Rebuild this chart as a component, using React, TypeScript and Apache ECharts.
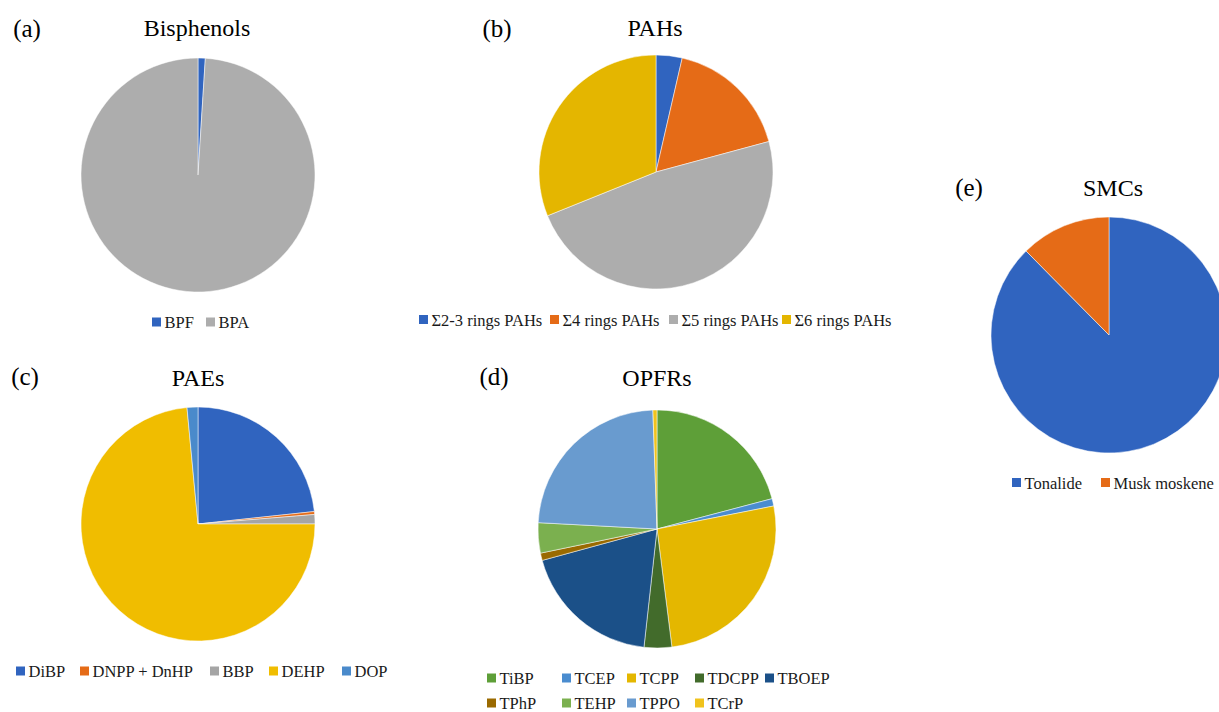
import React, { useEffect, useRef } from "react";
import * as echarts from "echarts";

// ---- data ----
const bisphenolNames = ["BPF", "BPA"];
const bisphenolValues = [1.0, 99.0];

const pahNames = ["Σ2-3 rings PAHs", "Σ4 rings PAHs", "Σ5 rings PAHs", "Σ6 rings PAHs"];
const pahValues = [3.6, 17.2, 48.1, 31.1];

const paeNames = ["DiBP", "DNPP + DnHP", "BBP", "DEHP", "DOP"];
const paeValues = [23.3, 0.4, 1.3, 73.5, 1.5];

const opfrNames = ["TiBP", "TCEP", "TCPP", "TDCPP", "TBOEP", "TPhP", "TEHP", "TPPO", "TCrP"];
const opfrValues = [20.9, 1.0, 26.1, 3.75, 19.0, 1.0, 4.1, 23.6, 0.55];

const smcNames = ["Tonalide", "Musk moskene"];
const smcValues = [87.6, 12.4];

// ---- styles / layout ----
const bisphenolColors = ["#3064BF", "#ADADAD"];
const pahColors = ["#3064BF", "#E56B17", "#ADADAD", "#E4B600"];
const paeColors = ["#3064BF", "#E56B17", "#A5A5A5", "#F0BD00", "#4A8ACB"];
const opfrColors = ["#5E9F38", "#4A8CCF", "#E4B700", "#426B2B", "#1B5088", "#9A6A00", "#7BB04F", "#699BCF", "#F0C31D"];
const smcColors = ["#3064BF", "#E56B17"];

const FONT = "Liberation Serif";

export default function App() {
  const ref = useRef<HTMLDivElement>(null);

  useEffect(() => {
    document.body.style.margin = "0";
    if (!ref.current) return;
    const chart = echarts.init(ref.current, undefined, { renderer: "svg" });

    const pie = (
      names: string[],
      values: number[],
      colors: string[],
      center: [number, number],
      r: number
    ) => ({
      type: "pie",
      center,
      radius: r,
      startAngle: 90,
      clockwise: true,
      silent: true,
      label: { show: false },
      labelLine: { show: false },
      emphasis: { disabled: true },
      itemStyle: { borderColor: "#ffffff", borderWidth: 0.5 },
      data: names.map((n, i) => ({ name: n, value: values[i], itemStyle: { color: colors[i] } })),
    });

    const txt = (text: string, x: number, y: number, size: number) => ({
      type: "text",
      x,
      y,
      silent: true,
      style: {
        text,
        fontFamily: FONT,
        fontSize: size,
        fill: "#000",
        align: "center",
        verticalAlign: "middle",
      },
    });

    // legend keys drawn as graphic squares + texts
    const legendEls: any[] = [];
    const addLegend = (names: string[], colors: string[], xs: number[], ys: number[]) => {
      names.forEach((n, i) => {
        legendEls.push({
          type: "rect",
          silent: true,
          shape: { x: xs[i], y: ys[i] - 4.5, width: 9, height: 9 },
          style: { fill: colors[i] },
        });
        legendEls.push({
          type: "text",
          x: xs[i] + 12.5,
          y: ys[i] + 0.5,
          silent: true,
          style: {
            text: n,
            fontFamily: FONT,
            fontSize: 16.5,
            fill: "#1a1a1a",
            align: "left",
            verticalAlign: "middle",
          },
        });
      });
    };
    addLegend(bisphenolNames, bisphenolColors, [152, 206], [322, 322]);
    addLegend(pahNames, pahColors, [419, 550, 669, 782], [319.5, 319.5, 319.5, 319.5]);
    addLegend(paeNames, paeColors, [16, 80, 210, 269, 342], [671, 671, 671, 671, 671]);
    addLegend(
      opfrNames,
      opfrColors,
      [487, 562, 627, 695, 765, 487, 562, 627, 695],
      [678, 678, 678, 678, 678, 703, 703, 703, 703]
    );
    addLegend(smcNames, smcColors, [1012, 1101], [482.5, 482.5]);

    chart.setOption({
      animation: false,
      backgroundColor: "#ffffff",
      textStyle: { fontFamily: FONT },
      graphic: [
        txt("(a)", 27, 28, 25),
        txt("Bisphenols", 197, 28, 24),
        txt("(b)", 497, 28, 25),
        txt("PAHs", 655, 28, 24),
        txt("(c)", 25, 376, 25),
        txt("PAEs", 198, 378, 24),
        txt("(d)", 494, 376, 25),
        txt("OPFRs", 657, 378, 24),
        txt("(e)", 969, 187, 25),
        txt("SMCs", 1113, 188, 24),
        ...legendEls,
      ],
      series: [
        pie(bisphenolNames, bisphenolValues, bisphenolColors, [198, 175], 117),
        pie(pahNames, pahValues, pahColors, [656, 172], 117),
        pie(paeNames, paeValues, paeColors, [198, 524], 117),
        pie(opfrNames, opfrValues, opfrColors, [657, 529], 119),
        pie(smcNames, smcValues, smcColors, [1109, 335], 118),
      ],
    });

    return () => chart.dispose();
  }, []);

  return <div ref={ref} style={{ width: 1219, height: 712 }} />;
}
